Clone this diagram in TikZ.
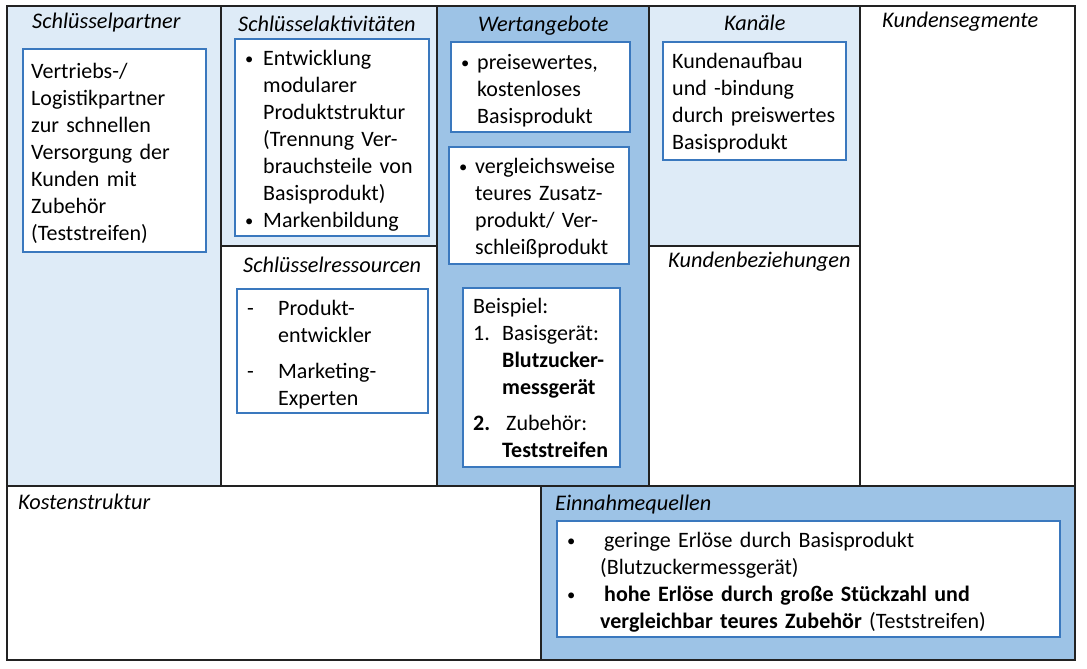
\documentclass[tikz,border=0pt]{standalone}
\usepackage{fontspec}
\setmainfont{Carlito}
\usepackage{tikz}
\usetikzlibrary{positioning}
\usepackage{xcolor}

\definecolor{hellblau}{HTML}{DEEBF7}
\definecolor{mittelblau}{HTML}{9DC3E6}
\definecolor{kastenblau}{HTML}{3A78BE}
\definecolor{linie}{HTML}{222222}
\newcommand{\pkt}[2]{\leavevmode\llap{\makebox[#1][l]{#2}}}
\newcommand{\kbul}{\raisebox{1pt}{\scalebox{0.75}{\textbullet}}}

\tikzset{
  feld/.style={draw=linie, line width=1.5pt},
  titel/.style={font=\fontsize{22.3}{26}\selectfont\itshape, anchor=base west, inner sep=0pt},
  kasten/.style={draw=kastenblau, line width=1.8pt, fill=white, anchor=north west, inner sep=0pt},
  inhalt/.style={font=\fontsize{22}{27}\selectfont, align=left, anchor=north west,
    inner sep=0pt, execute at begin node=\strut},
}

\begin{document}
\begin{tikzpicture}[x=1pt, y=-1pt]
    \useasboundingbox (0,0) rectangle (1087,669);

    % Felder
    \draw[feld, fill=hellblau] (7,6) rectangle (221,486);
    \draw[feld, fill=hellblau] (221,6) rectangle (437,246);
    \draw[feld, fill=white] (221,246) rectangle (437,486);
    \draw[feld, fill=mittelblau] (437,6) rectangle (649,486);
    \draw[feld, fill=hellblau] (649,6) rectangle (860,246);
    \draw[feld, fill=white] (649,246) rectangle (860,486);
    \draw[feld, fill=white] (860,6) rectangle (1075,486);
    \draw[feld, fill=white] (7,486) rectangle (541,660);
    \draw[feld, fill=mittelblau] (541,486) rectangle (1075,660);

    % Titel
    \node[titel] (t_partner) at (32,29) {Schlüsselpartner};
    \node[titel] (t_akt) at (238,32) {Schlüsselaktivitäten};
    \node[titel] (t_wert) at (478,32) {Wertangebote};
    \node[titel] (t_kanal) at (724,31) {Kanäle};
    \node[titel] (t_segment) at (882,28) {Kundensegmente};
    \node[titel] (t_res) at (243,272) {Schlüsselressourcen};
    \node[titel] (t_bez) at (668,267) {Kundenbeziehungen};
    \node[titel] (t_kosten) at (18,509) {Kostenstruktur};
    \node[titel] (t_einnahme) at (555,510) {Einnahmequellen};

    % Kaesten
    \node[kasten, minimum width=183pt, minimum height=203pt] (k_partner) at (22,48) {};
    \node[kasten, minimum width=194pt, minimum height=197pt] (k_akt) at (234,38) {};
    \node[kasten, minimum width=191pt, minimum height=124pt] (k_res) at (236,288) {};
    \node[kasten, minimum width=179pt, minimum height=90pt] (k_wert1) at (450,41) {};
    \node[kasten, minimum width=180pt, minimum height=117pt] (k_wert2) at (448,146) {};
    \node[kasten, minimum width=157pt, minimum height=179pt] (k_wert3) at (462,287) {};
    \node[kasten, minimum width=183pt, minimum height=118pt] (k_kanal) at (662,41) {};
    \node[kasten, minimum width=503pt, minimum height=116pt] (k_einnahme) at (556,520) {};

    % Inhalte
    \node[inhalt, text width=172pt] (i_partner) at (31,59)
        {Vertriebs-/\\Logistikpartner\\zur schnellen\\Versorgung der\\Kunden mit\\Zubehör\\(Teststreifen)};
    \node[inhalt, text width=160pt] (i_akt) at (263,46)
        {\pkt{18pt}{\kbul}Entwicklung\\modularer\\Produktstruktur\\(Trennung Ver-\\brauchsteile von\\Basisprodukt)\\\pkt{18pt}{\kbul}Markenbildung};
    \node[inhalt, text width=140pt] (i_res) at (278,296)
        {\pkt{31pt}{-}Produkt-\\entwickler\\[9pt]\pkt{31pt}{-}Marketing-\\Experten};
    \node[inhalt, text width=150pt] (i_wert1) at (477,50)
        {\pkt{16pt}{\kbul}preisewertes,\\kostenloses\\Basisprodukt};
    \node[inhalt, text width=150pt] (i_wert2) at (475,154)
        {\pkt{16pt}{\kbul}vergleichsweise\\teures Zusatz-\\produkt/ Ver-\\schleißprodukt};
    \node[inhalt, text width=145pt] (i_wert3) at (473,294)
        {Beispiel:\\\makebox[29pt][l]{1.}Basisgerät:\\\hspace*{29pt}\textbf{Blutzucker-}\\\hspace*{29pt}\textbf{messgerät}\\[9pt]%
         \makebox[33pt][l]{\textbf{2.}}Zubehör:\\\hspace*{29pt}\textbf{Teststreifen}};
    \node[inhalt, text width=175pt] (i_kanal) at (672,49)
        {Kundenaufbau\\und -bindung\\durch preiswertes\\Basisprodukt};
    \node[inhalt, text width=450pt] (i_einnahme) at (600,528)
        {\pkt{33pt}{\kbul}\hspace*{4pt}geringe Erlöse durch Basisprodukt\\(Blutzuckermessgerät)\\%
         \pkt{33pt}{\kbul}\hspace*{4pt}\textbf{hohe Erlöse durch große Stückzahl und}\\\textbf{vergleichbar teures Zubehör} (Teststreifen)};
\end{tikzpicture}
\end{document}
